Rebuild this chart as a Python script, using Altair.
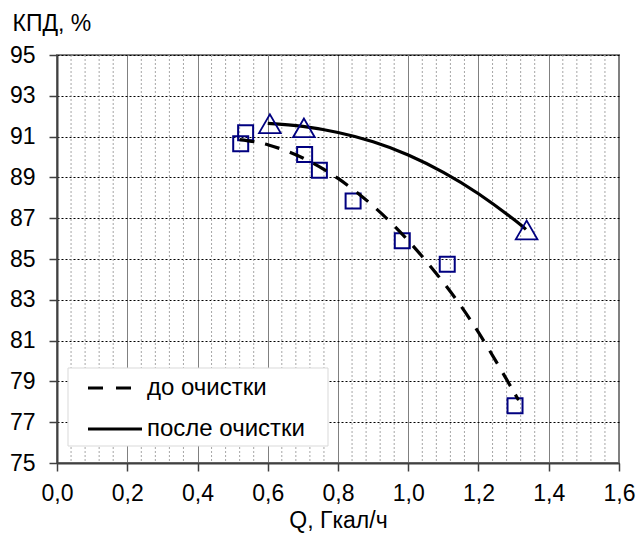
import altair as alt
import pandas as pd

# Measured points: boiler efficiency vs heat output
q_before = [0.523, 0.537, 0.705, 0.747, 0.843, 0.983, 1.111, 1.304]
eff_before = [90.65, 91.19, 90.12, 89.35, 87.84, 85.90, 84.74, 77.81]
q_after = [0.606, 0.703, 1.337]
eff_after = [91.63, 91.43, 86.42]

# Trend curves
trend_before_q = [0.52, 0.60, 0.70, 0.80, 0.90, 1.00, 1.10, 1.20, 1.30, 1.305]
trend_before_eff = [90.85, 90.60, 89.95, 88.95, 87.60, 85.90, 83.85, 81.40, 78.50, 78.35]
trend_after_q = [0.60, 0.70, 0.80, 0.90, 1.00, 1.10, 1.20, 1.30, 1.335]
trend_after_eff = [91.65, 91.50, 91.20, 90.75, 90.10, 89.25, 88.20, 86.95, 86.45]

# Axis ticks
x_major = [0.0, 0.2, 0.4, 0.6, 0.8, 1.0, 1.2, 1.4, 1.6]
x_minor = [round(0.04 * i, 2) for i in range(1, 40) if i % 5 != 0]
y_ticks = [75, 77, 79, 81, 83, 85, 87, 89, 91, 93, 95]
legend_labels = ["до очистки", "после очистки"]

FONT = "Liberation Sans"
NAVY = "#000080"
AXIS_GRAY = "#404040"
AXIS_FS = 23
LEGEND_FS = 24

xs = alt.Scale(domain=[0, 1.6], nice=False, zero=False)
ys = alt.Scale(domain=[75, 95], nice=False, zero=False)

x_axis = alt.Axis(
    values=x_major,
    labelExpr="replace(format(datum.value, '.1f'), '.', ',')",
    labelFlush=False, labelOverlap=False,
    grid=True, gridColor="#808080", gridWidth=1,
    tickSize=8, tickColor=AXIS_GRAY, tickWidth=1.5,
    domainColor=AXIS_GRAY, domainWidth=2,
    labelFont=FONT, labelFontSize=AXIS_FS, labelColor="black", labelPadding=11,
    title="Q, Гкал/ч", titleFont=FONT, titleFontSize=AXIS_FS, titleFontWeight="normal",
    titleColor="black", titleY=64, titleBaseline="alphabetic",
)
y_axis = alt.Axis(
    values=y_ticks, format="d", labelFlush=False, labelOverlap=False,
    grid=True, gridColor="black", gridDash=[2, 2], gridWidth=1,
    tickSize=8, tickColor=AXIS_GRAY, tickWidth=1.5,
    domainColor=AXIS_GRAY, domainWidth=2,
    labelFont=FONT, labelFontSize=AXIS_FS, labelColor="black", labelPadding=14,
    title="КПД, %", titleFont=FONT, titleFontSize=AXIS_FS, titleFontWeight="normal",
    titleColor="black", titleAngle=0, titleAlign="left", titleBaseline="alphabetic",
    titleX=-45, titleY=-25,
)

df_before = pd.DataFrame({"q": q_before, "eff": eff_before})
df_after = pd.DataFrame({"q": q_after, "eff": eff_after})
df_tb = pd.DataFrame({"q": trend_before_q, "eff": trend_before_eff})
df_ta = pd.DataFrame({"q": trend_after_q, "eff": trend_after_eff})

X = alt.X("q:Q", scale=xs, axis=x_axis)
Y = alt.Y("eff:Q", scale=ys, axis=y_axis)

minor_grid = alt.Chart(pd.DataFrame({"q": x_minor})).mark_rule(
    color="#a6a6a6", strokeDash=[2, 2], strokeWidth=1
).encode(x=X)

squares = alt.Chart(df_before).mark_point(
    shape="square", size=225, filled=False, color=NAVY, strokeWidth=2, opacity=1
).encode(x=X, y=Y)

triangles = alt.Chart(df_after).mark_point(
    shape="triangle-up", size=470, filled=False, color=NAVY, strokeWidth=1.8, opacity=1
).encode(x=X, y=Y)

line_before = alt.Chart(df_tb).mark_line(
    color="black", strokeWidth=3.2, strokeDash=[15, 11], interpolate="natural"
).encode(x=X, y=Y)

line_after = alt.Chart(df_ta).mark_line(
    color="black", strokeWidth=3.2, interpolate="natural"
).encode(x=X, y=Y)

# Legend box drawn inside the plot area
one = pd.DataFrame({"k": [0]})
legend_box = alt.Chart(one).mark_rect(
    fill="white", stroke="#d9d9d9", strokeWidth=1
).encode(x=alt.value(11), x2=alt.value(271), y=alt.value(313), y2=alt.value(391))

legend_dash = alt.Chart(one).mark_rule(
    color="black", strokeWidth=3.2, strokeDash=[15, 13]
).encode(x=alt.value(31), x2=alt.value(74), y=alt.value(333))

legend_solid = alt.Chart(one).mark_rule(
    color="black", strokeWidth=3.2
).encode(x=alt.value(31), x2=alt.value(85), y=alt.value(374))

legend_text1 = alt.Chart(one).mark_text(
    text=legend_labels[0], font=FONT, fontSize=LEGEND_FS, align="left", baseline="middle", color="black"
).encode(x=alt.value(90), y=alt.value(333))

legend_text2 = alt.Chart(one).mark_text(
    text=legend_labels[1], font=FONT, fontSize=LEGEND_FS, align="left", baseline="middle", color="black"
).encode(x=alt.value(90), y=alt.value(374))

chart = alt.layer(
    minor_grid, squares, line_before, line_after, triangles,
    legend_box, legend_dash, legend_solid, legend_text1, legend_text2,
).properties(
    width=562, height=408,
    autosize=alt.AutoSizeParams(type="none"),
    padding={"left": 57, "top": 55, "right": 20, "bottom": 72},
    background="white",
).configure_view(
    stroke="#808080", strokeWidth=2
)

chart.save("out.html", embed_options={"renderer": "svg", "actions": False})
